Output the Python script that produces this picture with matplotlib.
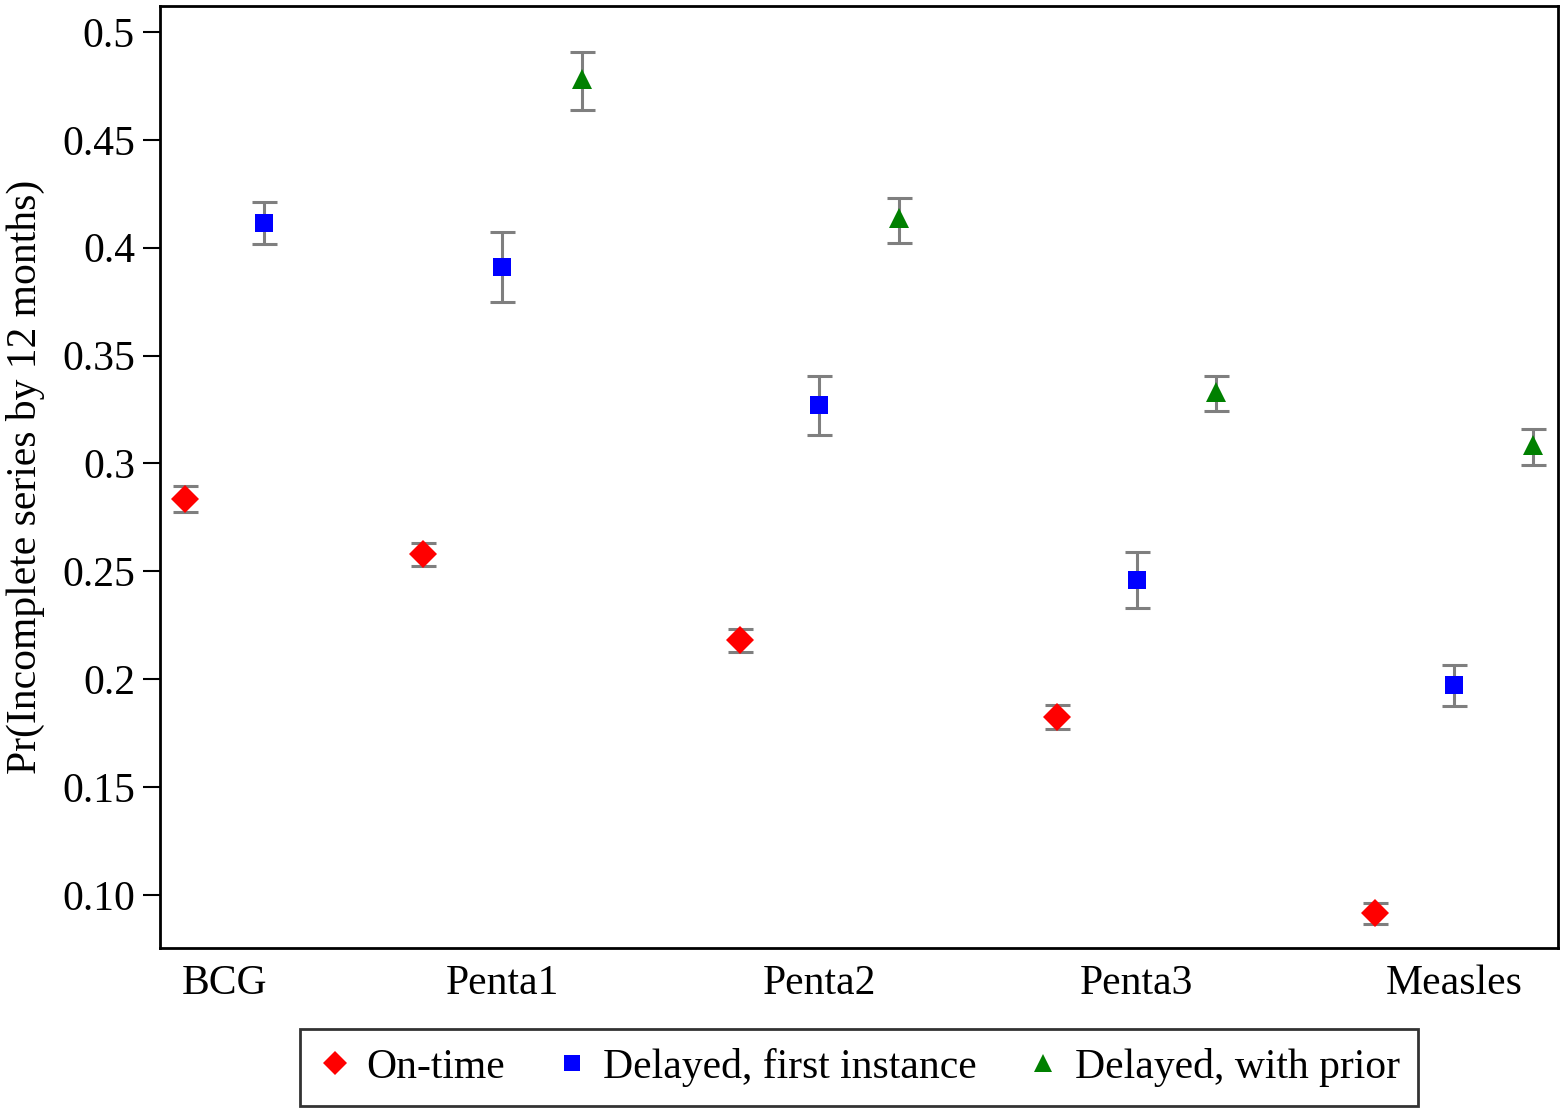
import matplotlib
matplotlib.use('Agg')
import matplotlib.pyplot as plt

# x positions: groups spaced by 4, points within group spaced by 1
vaccines = ['BCG', 'Penta1', 'Penta2', 'Penta3', 'Measles']
tick_pos = [1.5, 5, 9, 13, 17]

ontime_x = [1, 4, 8, 12, 16]
ontime_y = [0.2836, 0.2581, 0.2183, 0.1826, 0.0917]
ontime_lo = [0.2776, 0.2525, 0.2127, 0.1770, 0.0866]
ontime_hi = [0.2896, 0.2632, 0.2234, 0.1881, 0.0963]

first_x = [2, 5, 9, 13, 17]
first_y = [0.4115, 0.3911, 0.3272, 0.2461, 0.1974]
first_lo = [0.4018, 0.3749, 0.3133, 0.2331, 0.1877]
first_hi = [0.4212, 0.4073, 0.3406, 0.2590, 0.2066]

prior_x = [6, 10, 14, 18]
prior_y = [0.4782, 0.4138, 0.3332, 0.3086]
prior_lo = [0.4639, 0.4022, 0.3244, 0.2994]
prior_hi = [0.4907, 0.4231, 0.3406, 0.3160]

plt.rcParams['font.family'] = ['Liberation Serif', 'DejaVu Serif']

fig = plt.figure(figsize=(15.65, 11.10), dpi=100)
ax = fig.add_axes([0.1022, 0.1459, 0.8933, 0.8487])


def draw(xs, ys, lo, hi, marker, color, ms, label):
    err = [[y - l for y, l in zip(ys, lo)], [h - y for y, h in zip(ys, hi)]]
    ax.errorbar(xs, ys, yerr=err, fmt='none', ecolor='#7f7f7f',
                elinewidth=2.2, capsize=9, capthick=2.2, zorder=2)
    ax.plot(xs, ys, linestyle='none', marker=marker, color=color,
            markersize=ms, markeredgewidth=0, label=label, zorder=3)


draw(ontime_x, ontime_y, ontime_lo, ontime_hi, 'D', 'red', 14, 'On-time')
draw(first_x, first_y, first_lo, first_hi, 's', 'blue', 13, 'Delayed, first instance')
draw(prior_x, prior_y, prior_lo, prior_hi, '^', 'green', 15, 'Delayed, with prior')

ax.set_xlim(0.685, 18.31)
ax.set_ylim(0.0754, 0.512)
ax.set_xticks(tick_pos)
ax.set_xticklabels(vaccines)
ax.tick_params(axis='x', length=0, pad=12, labelsize=30)
ax.set_yticks([0.5, 0.45, 0.4, 0.35, 0.3, 0.25, 0.2, 0.15, 0.10])
ax.set_yticklabels(['0.5', '0.45', '0.4', '0.35', '0.3', '0.25', '0.2', '0.15', '0.10'])
ax.tick_params(axis='y', length=12, width=1.5, pad=6, labelsize=30)
for s in ax.spines.values():
    s.set_linewidth(2)

ax.set_ylabel('Pr(Incomplete series by 12 months)', fontsize=30, labelpad=12)

leg = ax.legend(loc='upper center', bbox_to_anchor=(0.5, -0.086), ncol=3,
                fontsize=30, frameon=True, fancybox=False, edgecolor='black',
                handlelength=0.8, handletextpad=0.35, columnspacing=1.2,
                markerscale=0.85, borderpad=0.45, borderaxespad=0)
leg.get_frame().set_linewidth(2)

fig.savefig('out.png', dpi=100)
